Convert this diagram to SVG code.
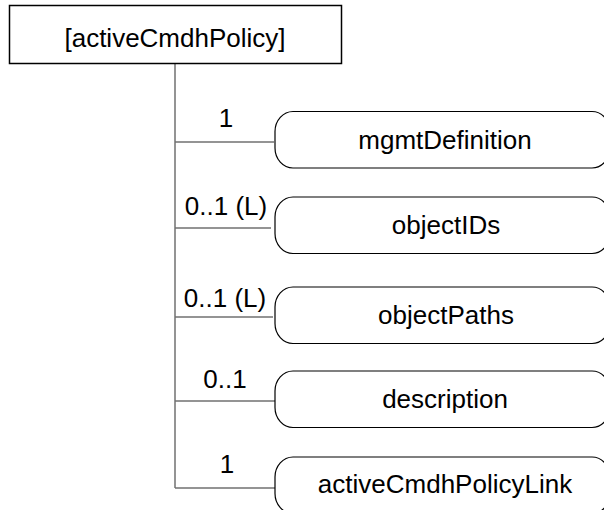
<svg xmlns="http://www.w3.org/2000/svg" width="604" height="510" viewBox="0 0 604 510">
<style>
.t{font-family:"Liberation Sans",Arial,sans-serif;font-size:26px;fill:#000;text-anchor:middle}
.node{fill:#fff;stroke:#000;stroke-width:1.2}
.conn{stroke:#707070;stroke-width:1.5;fill:none}
</style>
<rect width="604" height="510" fill="#fff"/>
<g id="connectors">
<line class="conn" x1="175" y1="63" x2="175" y2="488"/>
<line class="conn" x1="175" y1="142" x2="274" y2="142"/>
<line class="conn" x1="175" y1="228" x2="271" y2="228"/>
<line class="conn" x1="175" y1="317" x2="273" y2="317"/>
<line class="conn" x1="175" y1="401" x2="275" y2="401"/>
<line class="conn" x1="175" y1="488" x2="275" y2="488" stroke="#202020"/>
<text class="t" x="226" y="127">1</text>
<text class="t" x="226" y="215">0..1 (L)</text>
<text class="t" x="225" y="307">0..1 (L)</text>
<text class="t" x="225" y="388">0..1</text>
<text class="t" x="227" y="473">1</text>
</g>
<g id="root">
<rect x="9.5" y="5.5" width="332" height="58" fill="#fff" stroke="#000" stroke-width="1.5"/>
<text class="t" x="175" y="47">[activeCmdhPolicy]</text>
</g>
<g id="mgmtDefinition">
<rect class="node" x="275" y="111.5" width="335" height="56.5" rx="18" ry="20"/>
<text class="t" x="445" y="149">mgmtDefinition</text>
</g>
<g id="objectIDs">
<rect class="node" x="275" y="197" width="335" height="56.5" rx="18" ry="20"/>
<text class="t" x="446" y="234">objectIDs</text>
</g>
<g id="objectPaths">
<rect class="node" x="275" y="287" width="335" height="56.5" rx="18" ry="20"/>
<text class="t" x="446" y="324">objectPaths</text>
</g>
<g id="description">
<rect class="node" x="275" y="371" width="335" height="56.5" rx="18" ry="20"/>
<text class="t" x="445" y="408">description</text>
</g>
<g id="activeCmdhPolicyLink">
<rect class="node" x="275" y="457" width="335" height="56.5" rx="18" ry="20"/>
<text class="t" x="445" y="493">activeCmdhPolicyLink</text>
</g>
</svg>
